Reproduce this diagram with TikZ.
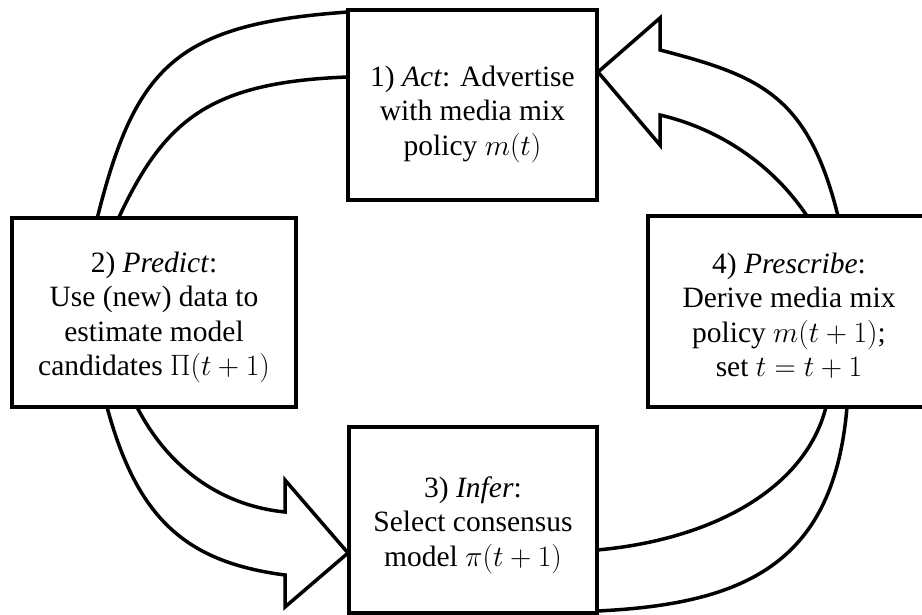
\documentclass[tikz,border=0pt]{standalone}
\usepackage{fix-cm}
\usepackage{fontspec}
\setmainfont{Liberation Serif}
\usetikzlibrary{backgrounds}

\begin{document}
\begin{tikzpicture}[x=1pt,y=-1pt,
		box/.style={draw,fill=white,line width=3.5pt,inner sep=0pt},
		txt/.style={align=center,inner sep=0pt,font=\fontsize{29.5pt}{34.5pt}\selectfont},
		band/.style={draw,fill=white,line width=3.5pt,line join=miter}]
		\useasboundingbox (0,0) rectangle (922,615);
		\node[box,minimum width=249pt,minimum height=190pt] (act) at (472.5,105) {};
		\node[box,minimum width=284pt,minimum height=189pt] (predict) at (154,312.5) {};
		\node[box,minimum width=248pt,minimum height=186pt] (infer) at (473,520) {};
		\node[box,minimum width=282pt,minimum height=191pt] (prescribe) at (789,311.5) {};
		\node[txt] (act-text) at ([yshift=-9pt]act.center) {1) \textit{Act}: Advertise\\with media mix\\policy $m(t)$};
		\node[txt] (predict-text) at ([yshift=-5pt]predict.center) {2) \textit{Predict}:\\Use (new) data to\\estimate model\\candidates $\Pi(t+1)$};
		\node[txt] (infer-text) at ([yshift=-5pt]infer.center) {3) \textit{Infer}:\\Select consensus\\model $\pi(t+1)$};
		\node[txt] (prescribe-text) at ([yshift=-4pt]prescribe.center) {4) \textit{Prescribe}:\\Derive media mix\\policy $m(t+1)$;\\set $t=t+1$};
		\begin{pgfonlayer}{background}
		% act -- predict
		\draw[band] (360,12) -- (348,12) .. controls (178,24) and (136,65) .. (98,215) -- (94,230) -- (113,230) -- (120,215) .. controls (165,120) and (210,82) .. (348,77) -- (360,77) -- cycle;
		% prescribe -> act
		\draw[band] (660,115) .. controls (720,129) and (773,165) .. (807,216) -- (812,228) -- (841,228) -- (838,216) .. controls (808,95) and (760,76) .. (660,50) -- (660,18) -- (598,72) -- (660,145) -- cycle;
		% predict -> infer
		\draw[band] (133,398) -- (137,407) .. controls (165,462) and (215,505) .. (285,512) -- (285,480) -- (348,553) -- (285,607) -- (285,575) .. controls (185,562) and (137,518) .. (107,407) -- (104,398) -- cycle;
		% infer -- prescribe
		\draw[band] (585,550) -- (597,550) .. controls (710,540) and (805,490) .. (826,407) -- (829,396) -- (850,396) -- (847,407) .. controls (834,560) and (750,604) .. (597,611) -- (585,611) -- cycle;
		\end{pgfonlayer}
	\end{tikzpicture}
\end{document}
